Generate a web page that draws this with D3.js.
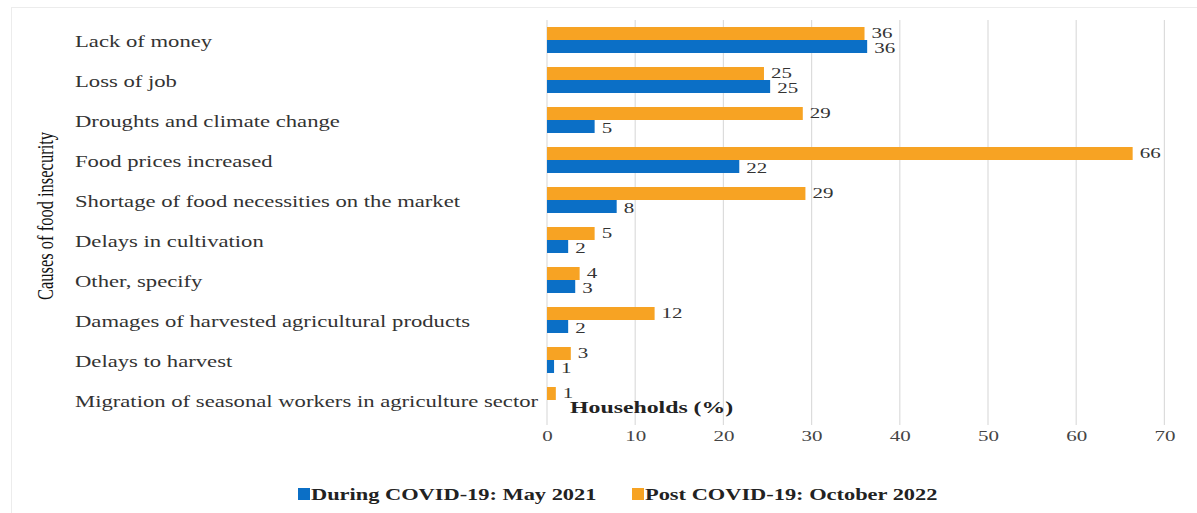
<!DOCTYPE html>
<html>
<head>
<meta charset="utf-8">
<script src="https://cdn.jsdelivr.net/npm/d3@7"></script>
<style>
  body { margin: 0; background: #fff; }
  svg { display: block; }
</style>
</head>
<body>
<div id="chart"></div>
<script>
// causes, top to bottom
const causes = [
  'Lack of money',
  'Loss of job',
  'Droughts and climate change',
  'Food prices increased',
  'Shortage of food necessities on the market',
  'Delays in cultivation',
  'Other, specify',
  'Damages of harvested agricultural products',
  'Delays to harvest',
  'Migration of seasonal workers in agriculture sector'
];
// bar lengths (labels show them rounded)
const postCovid = [36, 24.6, 29, 66.4, 29.3, 5.4, 3.7, 12.2, 2.7, 1];
const duringCovid = [36.3, 25.3, 5.4, 21.8, 7.9, 2.4, 3.2, 2.4, 0.8, 0];
const postLabels = ['36', '25', '29', '66', '29', '5', '4', '12', '3', '1'];
const duringLabels = ['36', '25', '5', '22', '8', '2', '3', '2', '1', ''];
const xTicks = [0, 10, 20, 30, 40, 50, 60, 70];
const seriesNames = ['During COVID-19: May 2021', 'Post COVID-19: October 2022'];

const width = 1197;
const height = 513;
const margin = { top: 20, right: 31, bottom: 93, left: 547 };

const blue = '#0b6fc6';
const orange = '#f7a323';
const serif = '"Liberation Serif", "Times New Roman", serif';
const stretch = 1.4; // the source picture is widened sideways

const rows = causes.map((c, i) => ({
  cause: c,
  post: postCovid[i], during: duringCovid[i],
  postLabel: postLabels[i], duringLabel: duringLabels[i]
}));

const x = d3.scaleLinear()
  .domain([0, 70])
  .range([margin.left, margin.left + 70 * 8.82]);

const y = d3.scaleBand()
  .domain(causes)
  .range([margin.top, height - margin.bottom])
  .paddingInner(0.35)
  .paddingOuter(0.175);

const sub = d3.scaleBand()
  .domain(['post', 'during'])
  .range([0, y.bandwidth()]);

const svg = d3.select('#chart')
  .append('svg')
  .attr('width', width)
  .attr('height', height);

// faint frame of the figure
svg.append('rect')
  .attr('x', 11.5).attr('y', 7.5)
  .attr('width', 1200).attr('height', 520)
  .attr('fill', 'none')
  .attr('stroke', '#ececec');

// grid lines
svg.append('g')
  .selectAll('line')
  .data(xTicks)
  .join('line')
  .attr('x1', d => x(d)).attr('x2', d => x(d))
  .attr('y1', margin.top).attr('y2', 425)
  .attr('stroke', '#dcdcdc')
  .attr('stroke-width', 1.2);

// x axis tick labels
svg.append('g')
  .attr('transform', `translate(0, 430)`)
  .call(d3.axisBottom(x).tickValues(xTicks).tickSize(0).tickPadding(0))
  .call(g => g.select('.domain').remove())
  .selectAll('text')
  .attr('y', 0)
  .attr('transform', `scale(${stretch}, 1)`)
  .attr('dy', '0.71em')
  .attr('fill', '#444')
  .attr('font-family', serif)
  .attr('font-size', '15px');

// category labels
svg.append('g')
  .selectAll('text')
  .data(causes)
  .join('text')
  .attr('transform', d => `translate(75, ${y(d) + y.bandwidth() / 2 + 1}) scale(${stretch}, 1)`)
  .attr('dy', '0.35em')
  .attr('fill', '#333')
  .attr('font-family', serif)
  .attr('font-size', '16.2px')
  .text(d => d);

// y axis title
svg.append('text')
  .attr('transform', `translate(53, ${(margin.top + 420) / 2 - 4}) scale(${stretch}, 1) rotate(-90)`)
  .attr('text-anchor', 'middle')
  .attr('fill', '#111')
  .attr('font-family', serif)
  .attr('font-size', '16.5px')
  .text('Causes of food insecurity');

// bars
const grp = svg.append('g')
  .selectAll('g')
  .data(rows)
  .join('g')
  .attr('transform', d => `translate(0, ${y(d.cause)})`);

grp.append('rect')
  .attr('x', x(0))
  .attr('y', sub('post'))
  .attr('width', d => x(d.post) - x(0))
  .attr('height', sub.bandwidth())
  .attr('fill', orange);

grp.append('rect')
  .attr('x', x(0))
  .attr('y', sub('during'))
  .attr('width', d => x(d.during) - x(0))
  .attr('height', sub.bandwidth())
  .attr('fill', blue);

// value labels
grp.append('text')
  .attr('transform', d => `translate(${x(d.post) + 7}, ${sub('post') + sub.bandwidth() / 2 - 1}) scale(${stretch}, 1)`)
  .attr('dy', '0.35em')
  .attr('fill', '#333')
  .attr('font-family', serif)
  .attr('font-size', '15px')
  .text(d => d.postLabel);

grp.append('text')
  .attr('transform', d => `translate(${x(d.during) + 7}, ${sub('during') + sub.bandwidth() / 2 + 1}) scale(${stretch}, 1)`)
  .attr('dy', '0.35em')
  .attr('fill', '#333')
  .attr('font-family', serif)
  .attr('font-size', '15px')
  .text(d => d.duringLabel);

// axis title sits inside the plot
svg.append('text')
  .attr('transform', `translate(570, 413) scale(${stretch}, 1)`)
  .attr('fill', '#222')
  .attr('font-family', serif)
  .attr('font-weight', 'bold')
  .attr('font-size', '17px')
  .text('Households (%)');

// legend
const legend = svg.append('g')
  .attr('transform', 'translate(0, 494)');

const legendItems = [
  { name: seriesNames[0], color: blue, x: 298 },
  { name: seriesNames[1], color: orange, x: 632 }
];

const li = legend.selectAll('g')
  .data(legendItems)
  .join('g')
  .attr('transform', d => `translate(${d.x}, 0)`);

li.append('rect')
  .attr('x', 0).attr('y', -6)
  .attr('width', 12).attr('height', 12)
  .attr('fill', d => d.color);

li.append('text')
  .attr('transform', `translate(13, 0) scale(${stretch}, 1)`)
  .attr('dy', '0.35em')
  .attr('fill', '#222')
  .attr('font-family', serif)
  .attr('font-weight', 'bold')
  .attr('font-size', '16px')
  .text(d => d.name);
</script>
</body>
</html>
